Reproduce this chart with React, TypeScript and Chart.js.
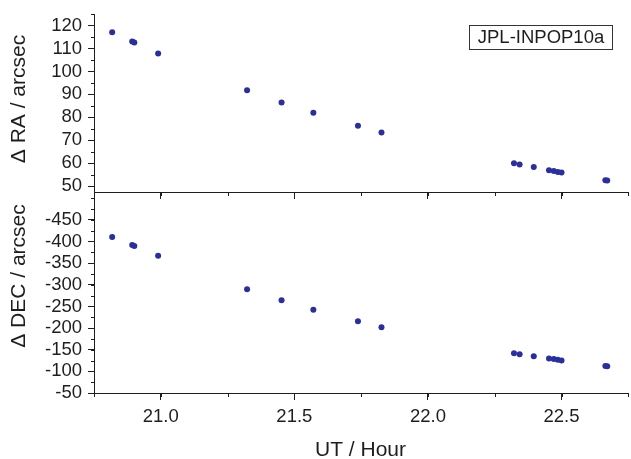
import React, { useEffect, useRef } from 'react';
import { Chart, registerables } from 'chart.js';

Chart.register(...registerables);

// ---- data ----
const utHours = [20.818, 20.893, 20.901, 20.990, 21.323, 21.452, 21.571, 21.738, 21.826, 22.322, 22.343, 22.396, 22.453, 22.471, 22.486, 22.500, 22.664, 22.671];
const deltaRA = [117.1, 113.0, 112.6, 107.8, 91.8, 86.5, 82.0, 76.3, 73.4, 60.0, 59.5, 58.4, 57.0, 56.6, 56.2, 56.0, 52.6, 52.5];
const deltaDEC = [-410.1, -392.0, -389.8, -367.2, -289.9, -264.4, -242.5, -215.5, -201.9, -141.7, -139.5, -135.0, -129.8, -128.3, -126.8, -125.3, -112.5, -111.8];

const utTicks = [21.0, 21.5, 22.0, 22.5];
const raTicks = [50, 60, 70, 80, 90, 100, 110, 120];
const decTicks = [-450, -400, -350, -300, -250, -200, -150, -100, -50];

const utRange = [20.75, 22.745];
const raRange = [47.5, 125];
const decRange = [-505, -50];

const legendLabel = 'JPL-INPOP10a';
const raTitle = 'Δ RA / arcsec';
const decTitle = 'Δ DEC / arcsec';
const utTitle = 'UT / Hour';

// ---- style ----
const FONT = '"Liberation Sans", Arial, Helvetica, sans-serif';
const INK = '#1e1e1e';
const DOT = '#2b2f98';

const minorTicks = {
  id: 'minorTicks',
  afterDraw(chart: any, _args: any, opts: any) {
    const ctx = chart.ctx;
    ctx.save();
    ctx.strokeStyle = INK;
    ctx.lineWidth = 1;
    ctx.beginPath();
    for (const spec of opts.items || []) {
      const scale = chart.scales[spec.axis];
      const n = Math.round((spec.end - spec.start) / spec.step);
      for (let i = 0; i <= n; i++) {
        const v = spec.start + i * spec.step;
        const p = Math.round(scale.getPixelForValue(v)) + 0.5;
        if (scale.isHorizontal()) {
          ctx.moveTo(p, scale.top);
          ctx.lineTo(p, scale.top + spec.len);
        } else {
          ctx.moveTo(scale.right - spec.len, p);
          ctx.lineTo(scale.right, p);
        }
      }
    }
    ctx.stroke();
    ctx.restore();
  },
};

const textLayer = {
  id: 'textLayer',
  afterDraw(chart: any, _args: any, opts: any) {
    const ctx = chart.ctx;
    for (const t of opts.items || []) {
      ctx.save();
      ctx.translate(t.x, t.y);
      ctx.rotate(t.rot || 0);
      ctx.font = `${t.size}px ${FONT}`;
      ctx.fillStyle = INK;
      ctx.textAlign = 'center';
      ctx.textBaseline = 'middle';
      ctx.fillText(t.text, 0, 0);
      ctx.restore();
    }
    if (opts.box) {
      const b = opts.box;
      ctx.save();
      ctx.strokeStyle = '#333333';
      ctx.lineWidth = 1;
      ctx.fillStyle = '#ffffff';
      ctx.fillRect(b.x, b.y, b.w, b.h);
      ctx.strokeRect(b.x + 0.5, b.y + 0.5, b.w, b.h);
      ctx.font = `${b.size}px ${FONT}`;
      ctx.fillStyle = INK;
      ctx.textAlign = 'center';
      ctx.textBaseline = 'middle';
      ctx.fillText(b.text, b.x + b.w / 2 + 0.5, b.y + b.h / 2 + 1);
      ctx.restore();
    }
  },
};

function yScale(range: number[], ticks: number[], reverse: boolean) {
  return {
    type: 'linear',
    position: 'left',
    min: range[0],
    max: range[1],
    reverse,
    afterBuildTicks: (s: any) => {
      s.ticks = ticks.map((v) => ({ value: v }));
    },
    afterFit: (s: any) => {
      s.width = 94;
      s.paddingTop = 0;
      s.paddingBottom = 0;
    },
    grid: { drawOnChartArea: false, drawTicks: true, tickLength: 6, color: INK, lineWidth: 1 },
    border: { display: true, color: INK, width: 1 },
    ticks: { font: { family: FONT, size: 18.5 }, color: INK, padding: 6, autoSkip: false },
  };
}

function xScale(showLabels: boolean, height: number) {
  return {
    type: 'linear',
    position: 'bottom',
    min: utRange[0],
    max: utRange[1],
    afterBuildTicks: (s: any) => {
      s.ticks = utTicks.map((v) => ({ value: v }));
    },
    afterFit: (s: any) => {
      s.height = height;
      s.paddingLeft = 0;
      s.paddingRight = 0;
    },
    grid: { drawOnChartArea: false, drawTicks: true, tickLength: 7, color: INK, lineWidth: 1 },
    border: { display: true, color: INK, width: 1 },
    ticks: {
      display: showLabels,
      font: { family: FONT, size: 18.5 },
      color: INK,
      padding: 6,
      autoSkip: false,
      maxRotation: 0,
      callback: (v: any) => Number(v).toFixed(1),
    },
    title: showLabels
      ? { display: true, text: utTitle, color: INK, font: { family: FONT, size: 21 }, padding: { top: 0, bottom: 0 } }
      : { display: false },
  };
}

export default function App() {
  const topRef = useRef<HTMLCanvasElement | null>(null);
  const botRef = useRef<HTMLCanvasElement | null>(null);

  useEffect(() => {
    const top = new Chart(topRef.current as HTMLCanvasElement, {
      type: 'scatter',
      data: {
        datasets: [
          {
            label: legendLabel,
            data: utHours.map((x, i) => ({ x, y: deltaRA[i] })),
            pointRadius: 3,
            pointBackgroundColor: DOT,
            pointBorderWidth: 0,
            showLine: false,
          },
        ],
      },
      options: {
        animation: false,
        responsive: false,
        maintainAspectRatio: false,
        layout: { padding: { top: 14, left: 0, right: 0, bottom: 0 } },
        plugins: {
          legend: { display: false },
          tooltip: { enabled: false },
          minorTicks: {
            items: [
              { axis: 'y', start: 50, end: 125, step: 5, len: 3 },
              { axis: 'x', start: 20.75, end: 22.75, step: 0.25, len: 4 },
            ],
          },
          textLayer: {
            items: [{ text: raTitle, x: 19, y: 99, rot: -Math.PI / 2, size: 21 }],
            box: { text: legendLabel, x: 469, y: 25, w: 143, h: 24, size: 18.5 },
          },
        } as any,
        scales: {
          x: xScale(false, 8) as any,
          y: yScale(raRange, raTicks, false) as any,
        },
      },
      plugins: [minorTicks, textLayer],
    });

    const bot = new Chart(botRef.current as HTMLCanvasElement, {
      type: 'scatter',
      data: {
        datasets: [
          {
            label: legendLabel,
            data: utHours.map((x, i) => ({ x, y: deltaDEC[i] })),
            pointRadius: 3,
            pointBackgroundColor: DOT,
            pointBorderWidth: 0,
            showLine: false,
          },
        ],
      },
      options: {
        animation: false,
        responsive: false,
        maintainAspectRatio: false,
        layout: { padding: 0 },
        plugins: {
          legend: { display: false },
          tooltip: { enabled: false },
          minorTicks: {
            items: [
              { axis: 'y', start: -500, end: -50, step: 25, len: 3 },
              { axis: 'x', start: 20.75, end: 22.75, step: 0.25, len: 4 },
            ],
          },
          textLayer: {
            items: [{ text: decTitle, x: 19, y: 84, rot: -Math.PI / 2, size: 21 }],
          },
        } as any,
        scales: {
          x: xScale(true, 70) as any,
          y: yScale(decRange, decTicks, true) as any,
        },
      },
      plugins: [minorTicks, textLayer],
    });

    return () => {
      top.destroy();
      bot.destroy();
    };
  }, []);

  return (
    <div style={{ position: 'absolute', left: 0, top: 0, width: 631, height: 459, background: '#fff', overflow: 'hidden' }}>
      <canvas ref={topRef} width={631} height={200} style={{ position: 'absolute', left: 0, top: 0, width: 631, height: 200 }} />
      <canvas ref={botRef} width={631} height={271} style={{ position: 'absolute', left: 0, top: 192, width: 631, height: 271 }} />
    </div>
  );
}
